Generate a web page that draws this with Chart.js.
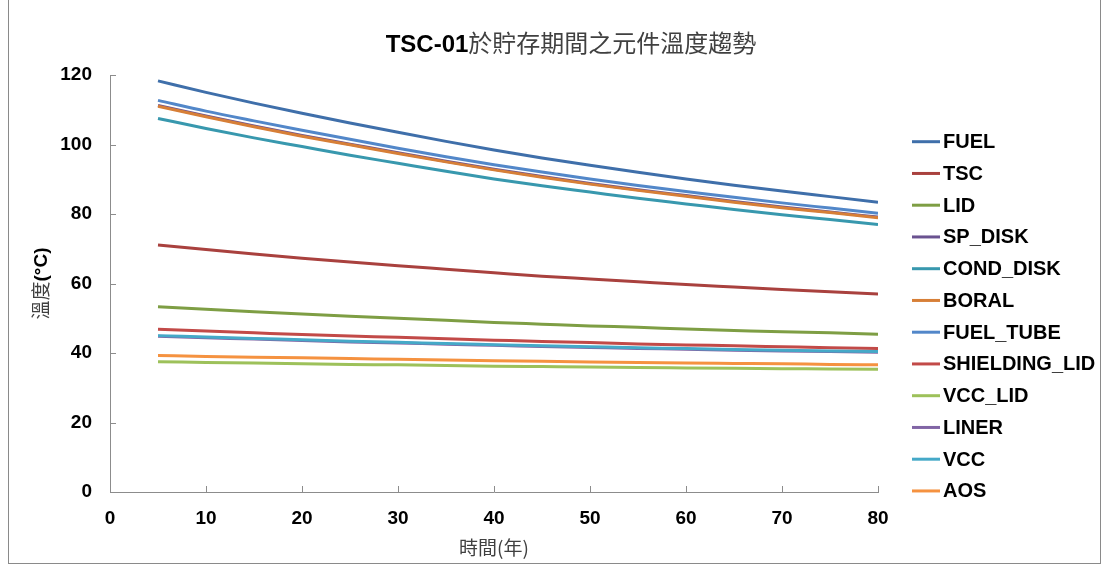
<!DOCTYPE html>
<html>
<head>
<meta charset="utf-8">
<script src="https://cdn.jsdelivr.net/npm/chart.js@4.4.0/dist/chart.umd.min.js"></script>
<style>
  html, body { margin: 0; padding: 0; background: #fff; }
  #wrap { position: relative; width: 1110px; height: 572px; }
  canvas { display: block; }
</style>
</head>
<body>
<div id="wrap"><canvas id="c" width="1110" height="572"></canvas></div>
<script>
// Storage time (years)
const years = [5, 10, 15, 20, 25, 30, 35, 40, 45, 50, 55, 60, 65, 70, 75, 80];

// Component temperatures (°C)
const fuel       = [118.3, 115.0, 111.9, 109.0, 106.2, 103.5, 100.9, 98.4, 96.1, 94.0, 92.0, 90.1, 88.3, 86.6, 85.0, 83.4];
const tsc        = [71.1, 69.8, 68.5, 67.3, 66.2, 65.1, 64.1, 63.1, 62.1, 61.3, 60.5, 59.7, 59.0, 58.3, 57.6, 57.0];
const lid        = [53.3, 52.6, 51.9, 51.2, 50.6, 50.0, 49.4, 48.8, 48.3, 47.8, 47.4, 46.9, 46.5, 46.1, 45.8, 45.4];
const spDisk     = [111.2, 108.2, 105.3, 102.6, 100.1, 97.6, 95.2, 92.9, 90.8, 88.8, 87.0, 85.3, 83.6, 82.0, 80.6, 79.1];
const condDisk   = [107.5, 104.6, 101.9, 99.4, 96.9, 94.6, 92.3, 90.1, 88.1, 86.3, 84.5, 82.9, 81.3, 79.8, 78.4, 77.0];
const boral      = [111.0, 108.0, 105.1, 102.4, 99.9, 97.4, 95.0, 92.7, 90.6, 88.6, 86.8, 85.1, 83.4, 81.8, 80.4, 78.9];
const fuelTube   = [112.7, 109.6, 106.8, 104.1, 101.5, 98.9, 96.5, 94.2, 92.1, 90.1, 88.2, 86.5, 84.8, 83.2, 81.7, 80.2];
const shieldLid  = [46.8, 46.3, 45.8, 45.3, 44.9, 44.5, 44.1, 43.7, 43.3, 43.0, 42.6, 42.3, 42.1, 41.8, 41.5, 41.3];
const vccLid     = [37.5, 37.3, 37.1, 36.9, 36.7, 36.6, 36.4, 36.2, 36.1, 36.0, 35.8, 35.7, 35.6, 35.5, 35.4, 35.3];
const liner      = [44.8, 44.4, 44.0, 43.6, 43.2, 42.9, 42.5, 42.2, 41.9, 41.6, 41.3, 41.1, 40.8, 40.6, 40.4, 40.2];
const vcc        = [45.0, 44.6, 44.2, 43.8, 43.4, 43.1, 42.7, 42.4, 42.1, 41.8, 41.5, 41.3, 41.0, 40.8, 40.6, 40.4];
const aos        = [39.3, 39.0, 38.8, 38.6, 38.4, 38.2, 38.0, 37.8, 37.6, 37.4, 37.3, 37.1, 37.0, 36.9, 36.7, 36.6];

const seriesNames = ['FUEL', 'TSC', 'LID', 'SP_DISK', 'COND_DISK', 'BORAL', 'FUEL_TUBE',
                     'SHIELDING_LID', 'VCC_LID', 'LINER', 'VCC', 'AOS'];
const seriesValues = [fuel, tsc, lid, spDisk, condDisk, boral, fuelTube,
                      shieldLid, vccLid, liner, vcc, aos];
const seriesColors = ['#3F6FAA', '#A9413E', '#7E9E44', '#6A5290', '#3898AE', '#D77F37',
                      '#5287C9', '#C24A48', '#9DC15A', '#8165A5', '#45A9C8', '#F59240'];

const xTicks = [0, 10, 20, 30, 40, 50, 60, 70, 80];
const yTicks = [0, 20, 40, 60, 80, 100, 120];

const titleBold = 'TSC-01';
const titleRest = '於貯存期間之元件溫度趨勢';
const xTitle = '時間(年)';
const yTitleCjk = '溫度';
const yTitleUnit = '(°C)';

const latin = '"Liberation Sans", Arial, sans-serif';
const cjk = '"Noto Sans CJK TC", "Noto Sans CJK SC", sans-serif';

const datasets = seriesNames.map((name, i) => ({
  label: name,
  data: years.map((x, k) => ({ x: x, y: seriesValues[i][k] })),
  borderColor: seriesColors[i],
  backgroundColor: seriesColors[i],
  borderWidth: 3,
  pointRadius: 0,
  pointHoverRadius: 0,
  tension: 0.4,
  cubicInterpolationMode: 'monotone',
  fill: false,
  order: seriesNames.length - i   // later series are painted on top
}));

// Frame, titles, inside tick marks and legend
const decorations = {
  id: 'decorations',
  afterDraw(chart) {
    const ctx = chart.ctx;
    const xs = chart.scales.x, ys = chart.scales.y;
    ctx.save();

    // outer frame
    ctx.strokeStyle = '#8A8A8A';
    ctx.lineWidth = 1;
    ctx.strokeRect(8.5, -1, 1092, 564.5);

    // tick marks pointing into the plot area
    ctx.strokeStyle = '#8C8C8C';
    ctx.beginPath();
    yTicks.forEach(v => {
      const py = Math.round(ys.getPixelForValue(v)) + 0.5;
      ctx.moveTo(xs.left, py);
      ctx.lineTo(xs.left + 6, py);
    });
    xTicks.forEach(v => {
      const px = Math.round(xs.getPixelForValue(v)) + 0.5;
      ctx.moveTo(px, ys.bottom);
      ctx.lineTo(px, ys.bottom - 6);
    });
    ctx.stroke();

    // chart title: bold latin part followed by CJK part
    ctx.textBaseline = 'alphabetic';
    ctx.textAlign = 'left';
    ctx.font = 'bold 24px ' + latin;
    const w1 = ctx.measureText(titleBold).width;
    ctx.font = '24px ' + cjk;
    const w2 = ctx.measureText(titleRest).width;
    const tx = 571 - (w1 + w2) / 2;
    ctx.font = 'bold 24px ' + latin;
    ctx.fillStyle = '#000';
    ctx.fillText(titleBold, tx, 52);
    ctx.font = '24px ' + cjk;
    ctx.fillStyle = '#404040';
    ctx.fillText(titleRest, tx + w1, 52);

    // vertical axis title, rotated: CJK part plus bold unit
    ctx.save();
    ctx.translate(41, (ys.top + ys.bottom) / 2);
    ctx.rotate(-Math.PI / 2);
    ctx.textBaseline = 'middle';
    ctx.font = '19px ' + cjk;
    const a1 = ctx.measureText(yTitleCjk).width;
    ctx.font = 'bold 19px ' + latin;
    const a2 = ctx.measureText(yTitleUnit).width;
    const ax = -(a1 + a2) / 2;
    ctx.font = '19px ' + cjk;
    ctx.fillStyle = '#404040';
    ctx.fillText(yTitleCjk, ax, 0);
    ctx.font = 'bold 19px ' + latin;
    ctx.fillStyle = '#000';
    ctx.fillText(yTitleUnit, ax + a1, 1);
    ctx.restore();

    // legend
    ctx.textBaseline = 'middle';
    ctx.font = 'bold 20px ' + latin;
    seriesNames.forEach((name, i) => {
      const cy = 141.7 + i * 31.75;
      ctx.strokeStyle = seriesColors[i];
      ctx.lineWidth = 3;
      ctx.beginPath();
      ctx.moveTo(912, cy);
      ctx.lineTo(940, cy);
      ctx.stroke();
      ctx.fillStyle = '#000';
      ctx.fillText(name, 943, cy + 1);
    });
    ctx.restore();
  }
};

new Chart(document.getElementById('c'), {
  type: 'line',
  data: { datasets },
  options: {
    responsive: false,
    animation: false,
    devicePixelRatio: 1,
    layout: { padding: { left: 0, top: 75, right: 232, bottom: 0 } },
    plugins: {
      legend: { display: false },
      title: { display: false },
      tooltip: { enabled: false }
    },
    scales: {
      x: {
        type: 'linear',
        min: 0, max: 80,
        afterFit(s) { s.height = 80; },
        afterBuildTicks(s) { s.ticks = xTicks.map(v => ({ value: v })); },
        grid: { display: false, drawTicks: false },
        border: { display: true, color: '#8C8C8C', width: 1 },
        ticks: {
          color: '#000',
          padding: 15,
          maxRotation: 0,
          font: { family: latin, size: 19, weight: 'bold' }
        },
        title: {
          display: true,
          text: xTitle,
          color: '#404040',
          font: { family: cjk, size: 19 },
          padding: { top: 0, bottom: 13 }
        }
      },
      y: {
        type: 'linear',
        min: 0, max: 120,
        afterFit(s) { s.width = 110; },
        afterBuildTicks(s) { s.ticks = yTicks.map(v => ({ value: v })); },
        grid: { display: false, drawTicks: false },
        border: { display: true, color: '#8C8C8C', width: 1 },
        ticks: {
          color: '#000',
          padding: 18,
          font: { family: latin, size: 19, weight: 'bold' }
        },
        title: { display: false }
      }
    }
  },
  plugins: [decorations]
});
</script>
</body>
</html>
